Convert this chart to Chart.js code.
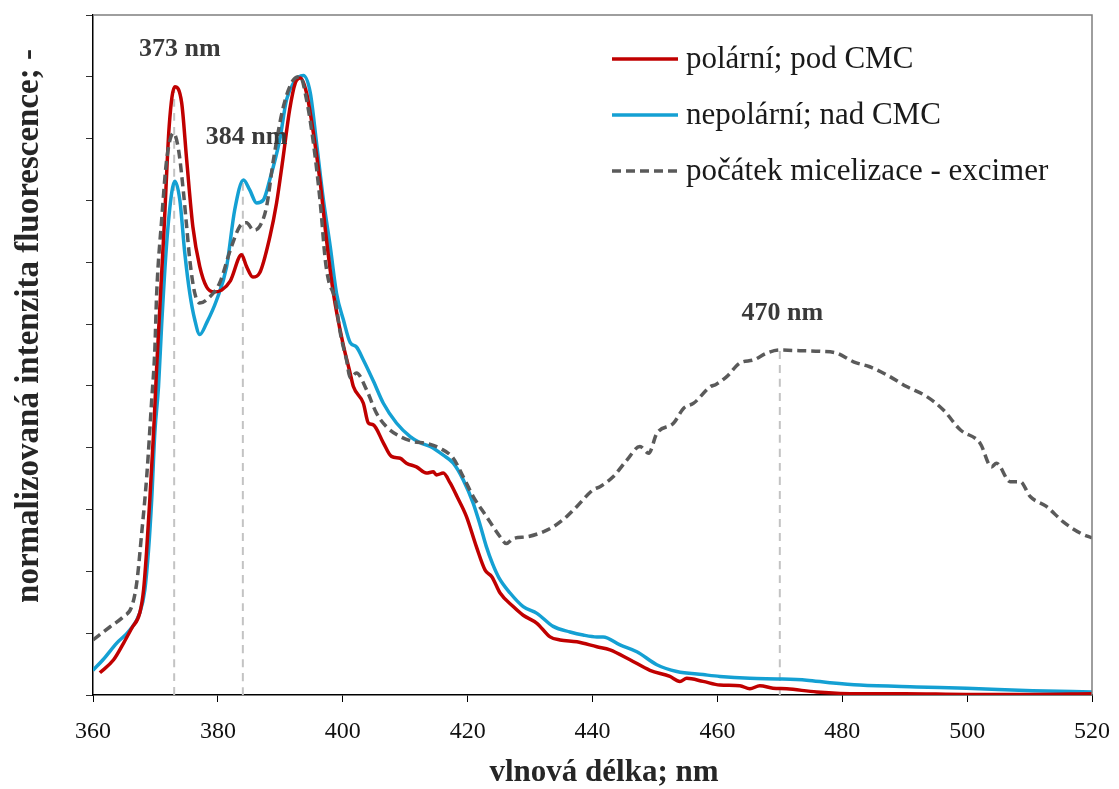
<!DOCTYPE html>
<html>
<head>
<meta charset="utf-8">
<script src="https://cdn.jsdelivr.net/npm/chart.js@4/dist/chart.umd.min.js"></script>
<style>
  html, body { margin: 0; padding: 0; background: #fff; }
  #wrap { width: 1119px; height: 789px; }
</style>
</head>
<body>
<div id="wrap"><canvas id="spectrum" width="1119" height="789"></canvas></div>
<script>
// polární; pod CMC
const polarNm = [361.1, 363.3, 364.9, 366.2, 367.5, 368.1, 368.6, 369.1, 369.7, 370.2, 371.4, 372.2, 373.1, 374.2, 375.0, 376.0, 377.1, 378.2, 379.4, 380.6, 382.0, 383.8, 384.6, 385.6, 386.7, 388.3, 389.4, 390.4, 391.5, 392.4, 393.2, 394.2, 395.3, 396.4, 397.4, 398.5, 400.0, 401.2, 401.7, 403.3, 404.1, 404.9, 406.5, 407.8, 409.2, 410.2, 411.8, 413.4, 414.5, 415.0, 416.1, 417.2, 418.3, 419.8, 421.4, 422.8, 423.9, 425.2, 427.3, 428.9, 431.1, 433.2, 434.8, 437.5, 440.7, 442.8, 446.0, 449.2, 452.4, 454.0, 455.1, 457.7, 460.4, 463.6, 465.2, 466.8, 468.9, 471.1, 475.9, 482.8, 490.0, 500.0, 510.0, 520.0];
const polarVal = [0.036, 0.057, 0.084, 0.108, 0.133, 0.170, 0.235, 0.316, 0.424, 0.531, 0.758, 0.920, 0.984, 0.958, 0.866, 0.757, 0.693, 0.660, 0.652, 0.655, 0.670, 0.712, 0.693, 0.676, 0.683, 0.740, 0.796, 0.866, 0.947, 0.990, 0.998, 0.974, 0.909, 0.828, 0.736, 0.650, 0.570, 0.520, 0.499, 0.472, 0.440, 0.437, 0.408, 0.386, 0.383, 0.375, 0.369, 0.359, 0.361, 0.356, 0.359, 0.343, 0.321, 0.289, 0.240, 0.202, 0.191, 0.165, 0.143, 0.129, 0.116, 0.094, 0.089, 0.086, 0.078, 0.073, 0.057, 0.040, 0.030, 0.022, 0.027, 0.022, 0.016, 0.015, 0.010, 0.015, 0.011, 0.010, 0.005, 0.002, 0.002, 0.001, 0.001, 0.002];

// nepolární; nad CMC
const nonpolarNm = [360.0, 361.6, 363.8, 365.9, 367.5, 368.3, 368.9, 369.4, 369.9, 370.5, 371.0, 371.8, 372.6, 373.1, 373.9, 374.7, 375.5, 376.3, 377.1, 378.2, 379.8, 381.4, 382.7, 384.1, 385.1, 386.2, 387.3, 388.3, 389.9, 391.0, 392.1, 393.7, 394.8, 395.8, 396.9, 398.0, 399.0, 400.1, 401.2, 402.2, 403.3, 404.9, 406.5, 408.6, 410.8, 412.4, 414.0, 416.1, 417.7, 419.3, 420.9, 422.0, 423.0, 424.0, 425.0, 426.8, 428.9, 431.1, 433.7, 436.4, 438.5, 440.7, 441.7, 444.4, 447.1, 450.3, 453.5, 457.7, 460.4, 465.2, 470.0, 474.3, 478.0, 482.8, 491.9, 499.9, 510.5, 520.0];
const nonpolarVal = [0.040, 0.057, 0.084, 0.105, 0.133, 0.170, 0.235, 0.316, 0.424, 0.500, 0.600, 0.731, 0.812, 0.831, 0.801, 0.715, 0.650, 0.607, 0.583, 0.602, 0.639, 0.693, 0.785, 0.833, 0.817, 0.796, 0.801, 0.833, 0.898, 0.963, 0.990, 1.002, 0.974, 0.893, 0.801, 0.725, 0.650, 0.607, 0.570, 0.563, 0.542, 0.508, 0.472, 0.440, 0.418, 0.408, 0.402, 0.388, 0.375, 0.348, 0.310, 0.275, 0.240, 0.212, 0.190, 0.165, 0.143, 0.132, 0.111, 0.102, 0.097, 0.094, 0.094, 0.081, 0.070, 0.049, 0.038, 0.033, 0.030, 0.027, 0.026, 0.024, 0.020, 0.016, 0.013, 0.011, 0.007, 0.005];

// počátek micelizace - excimer
const excimerNm = [360.0, 362.7, 364.9, 366.2, 367.0, 367.8, 368.6, 369.4, 369.9, 370.2, 371.0, 371.8, 372.9, 373.7, 374.5, 375.0, 375.5, 376.3, 377.1, 378.7, 380.3, 382.0, 383.5, 384.6, 385.7, 386.7, 387.8, 388.9, 390.5, 392.1, 393.2, 394.2, 395.3, 396.4, 397.2, 397.7, 398.8, 399.6, 400.6, 401.2, 402.2, 403.8, 405.4, 407.0, 409.2, 411.3, 413.4, 415.6, 417.7, 419.3, 420.9, 423.0, 425.2, 426.2, 427.3, 429.5, 431.6, 433.7, 435.9, 437.5, 440.1, 441.2, 443.3, 445.5, 447.6, 449.0, 450.3, 453.0, 454.6, 456.2, 458.9, 459.7, 461.5, 463.6, 465.8, 467.9, 470.0, 473.2, 476.4, 479.1, 481.8, 484.4, 487.1, 490.3, 493.5, 496.2, 498.9, 502.1, 503.9, 504.7, 506.9, 508.5, 510.1, 512.7, 515.4, 518.1, 520.0];
const excimerVal = [0.089, 0.110, 0.127, 0.143, 0.181, 0.262, 0.353, 0.477, 0.558, 0.650, 0.769, 0.866, 0.909, 0.882, 0.812, 0.758, 0.704, 0.650, 0.634, 0.644, 0.667, 0.720, 0.758, 0.764, 0.752, 0.758, 0.790, 0.866, 0.952, 0.995, 1.000, 0.963, 0.893, 0.796, 0.704, 0.672, 0.639, 0.586, 0.542, 0.513, 0.521, 0.494, 0.456, 0.434, 0.418, 0.410, 0.407, 0.399, 0.383, 0.353, 0.321, 0.289, 0.256, 0.245, 0.253, 0.256, 0.262, 0.272, 0.289, 0.305, 0.332, 0.337, 0.353, 0.380, 0.402, 0.391, 0.423, 0.440, 0.464, 0.472, 0.499, 0.502, 0.515, 0.537, 0.542, 0.553, 0.558, 0.557, 0.556, 0.553, 0.539, 0.531, 0.518, 0.499, 0.483, 0.461, 0.429, 0.407, 0.369, 0.375, 0.345, 0.345, 0.321, 0.305, 0.280, 0.262, 0.254];

// peak markers (dashed verticals) and their labels
const peakNm = [373, 384, 470];
const peakTop = [0.984, 0.833, 0.558];
const peakLabels = ["373 nm", "384 nm", "470 nm"];
const peakLabelNm = [373.9, 384.6, 470.4];
const peakLabelVal = [1.044, 0.903, 0.617];

const seriesNames = ["polární; pod CMC", "nepolární; nad CMC", "počátek micelizace - excimer"];
const xTicks = [360, 380, 400, 420, 440, 460, 480, 500, 520];
const xTitle = "vlnová délka; nm";
const yTitle = "normalizovaná intenzita fluorescence; -";

const SERIF = "'Liberation Serif', 'Times New Roman', serif";

function toPoints(xs, ys) {
	return xs.map((x, i) => ({ x: x, y: ys[i] }));
}

const markerSets = peakNm.map((nm, i) => ({
	label: "_marker" + i,
	data: [{ x: nm, y: 0 }, { x: nm, y: peakTop[i] }],
	borderColor: "#c3c3c3",
	borderWidth: 2,
	borderDash: [8, 6],
	order: 10,
}));

const overlayPlugin = {
	id: "overlay",
	afterDraw(chart) {
		const { ctx, chartArea, scales } = chart;
		const xs = scales.x;
		const ys = scales.y;
		ctx.save();

		// top + right frame
		ctx.strokeStyle = "#7f7f7f";
		ctx.lineWidth = 1.5;
		ctx.beginPath();
		ctx.moveTo(chartArea.left, chartArea.top);
		ctx.lineTo(chartArea.right, chartArea.top);
		ctx.lineTo(chartArea.right, chartArea.bottom);
		ctx.stroke();

		// axis titles
		ctx.fillStyle = "#262626";
		ctx.textAlign = "center";
		ctx.textBaseline = "middle";
		ctx.font = "bold 31px " + SERIF;
		ctx.fillText(xTitle, 604, 773);
		ctx.save();
		ctx.translate(29, 326);
		ctx.rotate(-Math.PI / 2);
		ctx.font = "bold 33px " + SERIF;
		ctx.fillText(yTitle, 0, 0);
		ctx.restore();

		// peak labels
		ctx.fillStyle = "#3a3a3a";
		ctx.font = "bold 26px " + SERIF;
		peakLabels.forEach((txt, i) => {
			ctx.fillText(txt, xs.getPixelForValue(peakLabelNm[i]), ys.getPixelForValue(peakLabelVal[i]));
		});

		// legend, in the order of seriesNames
		const legendX = 612;
		const legendY = [59, 115, 171];
		ctx.font = "31px " + SERIF;
		ctx.textAlign = "left";
		seriesNames.forEach((name, i) => {
			const ds = chart.data.datasets.find((d) => d.label === name);
			ctx.strokeStyle = ds.borderColor;
			ctx.lineWidth = 3.5;
			ctx.setLineDash(ds.borderDash || []);
			ctx.beginPath();
			ctx.moveTo(legendX, legendY[i]);
			ctx.lineTo(legendX + 66, legendY[i]);
			ctx.stroke();
			ctx.setLineDash([]);
			ctx.fillStyle = "#1a1a1a";
			ctx.fillText(name, legendX + 74, legendY[i] + 1);
		});
		ctx.restore();
	},
};

new Chart(document.getElementById("spectrum"), {
	type: "scatter",
	data: {
		datasets: [
			{
				label: seriesNames[2],
				data: toPoints(excimerNm, excimerVal),
				borderColor: "#5a5a5a",
				borderWidth: 3.5,
				borderDash: [9, 5],
				order: 1,
			},
			{
				label: seriesNames[0],
				data: toPoints(polarNm, polarVal),
				borderColor: "#c00000",
				borderWidth: 3.5,
				order: 2,
			},
			{
				label: seriesNames[1],
				data: toPoints(nonpolarNm, nonpolarVal),
				borderColor: "#14a0d3",
				borderWidth: 3.5,
				order: 3,
			},
			...markerSets,
		].map((d) => Object.assign({ showLine: true, pointRadius: 0, cubicInterpolationMode: "monotone" }, d)),
	},
	options: {
		responsive: false,
		animation: false,
		layout: { padding: { top: 15, right: 27, left: 0, bottom: 0 } },
		plugins: {
			legend: { display: false },
			tooltip: { enabled: false },
		},
		scales: {
			x: {
				type: "linear",
				min: 360,
				max: 520,
				afterBuildTicks(scale) {
					scale.ticks = xTicks.map((v) => ({ value: v }));
				},
				afterFit(scale) {
					scale.height = 94;
					// keep the plot edge fixed, the label fits in the page margin
					scale.paddingLeft = 10;
					scale.paddingRight = 10;
				},
				grid: { drawOnChartArea: false, color: "#000", tickLength: 7 },
				border: { color: "#000", width: 1.5 },
				ticks: {
					font: { family: SERIF, size: 24 },
					color: "#111",
					padding: 15,
					maxRotation: 0,
				},
			},
			y: {
				type: "linear",
				min: 0,
				max: 1.1,
				ticks: { display: false, stepSize: 0.1 },
				afterFit(scale) {
					scale.width = 93;
				},
				grid: { drawOnChartArea: false, color: "#333", tickLength: 7 },
				border: { color: "#000", width: 1.5 },
			},
		},
	},
	plugins: [overlayPlugin],
});
</script>
</body>
</html>
